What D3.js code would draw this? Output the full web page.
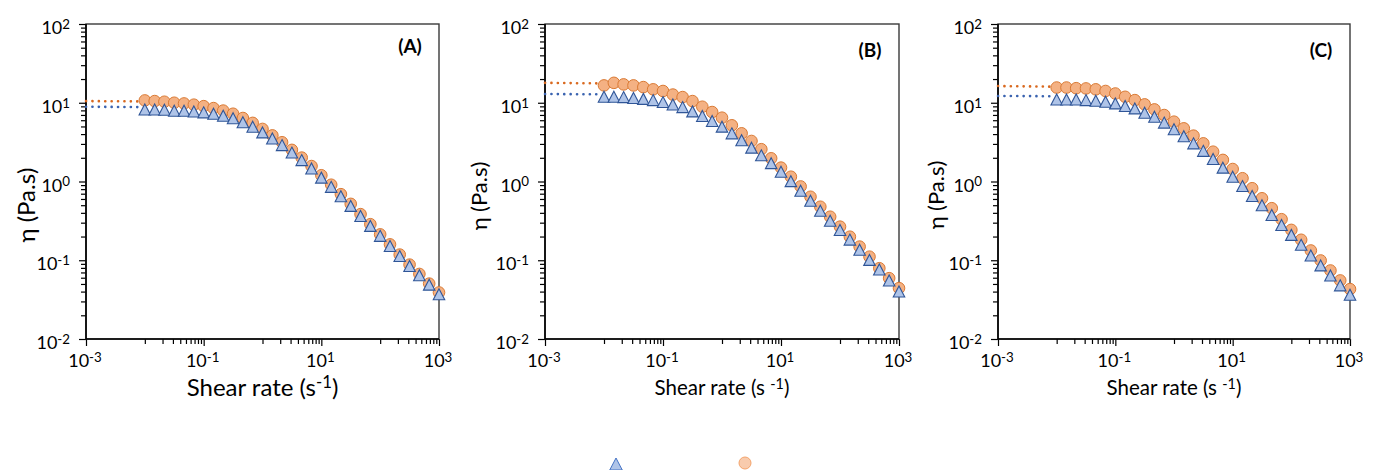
<!DOCTYPE html>
<html>
<head>
<meta charset="utf-8">
<script src="https://cdn.jsdelivr.net/npm/d3@7"></script>
<style>
  body { margin: 0; background: #fff; }
  svg { font-family: Lato, "Open Sans", sans-serif; }
</style>
</head>
<body>
<div id="vis"></div>
<script>
// shear rates (1/s), same for every sample
const shearRate = [0.01, 0.0147, 0.0215, 0.0316, 0.0464, 0.0681, 0.1, 0.147, 0.215, 0.316,
  0.464, 0.681, 1, 1.47, 2.15, 3.16, 4.64, 6.81, 10, 14.7, 21.5, 31.6, 46.4, 68.1,
  100, 147, 215, 316, 464, 681, 1000];

// viscosity (Pa.s), triangle series
const triA = [8.2, 8.2, 8.15, 7.9, 7.9, 7.75, 7.55, 7.25, 6.85, 6.35, 5.65, 4.95, 4.2, 3.52, 2.9,
  2.33, 1.87, 1.46, 1.12, 0.855, 0.65, 0.49, 0.365, 0.273, 0.204, 0.152, 0.113, 0.0847, 0.0645, 0.049, 0.037];
const triB = [11.9, 11.9, 11.8, 11.5, 11.2, 10.8, 10.2, 9.52, 8.81, 7.77, 6.78, 5.86, 4.97, 4.09, 3.34,
  2.69, 2.15, 1.71, 1.33, 1.01, 0.762, 0.569, 0.425, 0.318, 0.242, 0.183, 0.136, 0.101, 0.0762, 0.0553, 0.0401];
const triC = [11.0, 11.0, 11.0, 10.8, 10.6, 10.3, 9.81, 9.08, 8.48, 7.47, 6.65, 5.6, 4.6, 3.75, 3.05,
  2.45, 1.93, 1.5, 1.15, 0.875, 0.655, 0.5, 0.375, 0.28, 0.21, 0.157, 0.115, 0.086, 0.064, 0.048, 0.0365];

// viscosity (Pa.s), circle series
const circA = [10.7, 10.5, 10.3, 10.0, 9.8, 9.45, 9.05, 8.55, 7.95, 7.25, 6.4, 5.55, 4.65, 3.85, 3.15,
  2.52, 2.01, 1.57, 1.2, 0.91, 0.69, 0.52, 0.385, 0.287, 0.213, 0.159, 0.118, 0.088, 0.067, 0.0505, 0.039];
const circB = [16.6, 17.9, 17.1, 16.6, 15.8, 14.8, 14.1, 12.7, 11.8, 10.5, 8.9, 7.62, 6.46, 5.17, 4.09,
  3.27, 2.57, 1.97, 1.5, 1.15, 0.865, 0.64, 0.478, 0.357, 0.267, 0.199, 0.149, 0.111, 0.0792, 0.0592, 0.0442];
const circC = [15.6, 15.6, 15.3, 15.2, 14.8, 14.1, 13.1, 11.9, 10.8, 9.53, 8.23, 6.98, 5.75, 4.73, 3.82,
  3.05, 2.39, 1.88, 1.44, 1.1, 0.821, 0.612, 0.458, 0.332, 0.243, 0.182, 0.133, 0.0993, 0.0741, 0.0554, 0.043];

// model fit (dotted), only the part left of the data shows
const fitRate = [0.001, 0.0085];
const fitTriA = [8.9, 8.8];
const fitCircA = [10.5, 10.4];
const fitTriB = [12.9, 12.8];
const fitCircB = [17.9, 17.6];
const fitTriC = [12.2, 12.1];
const fitCircC = [16.3, 16.0];

// tick labels (exponents of 10)
const xExponents = [-3, -1, 1, 3];
const yExponents = [-2, -1, 0, 1, 2];

const panelLabels = ["(A)", "(B)", "(C)"];

const WIDTH = 1373, HEIGHT = 470;
const TOP = 24, BOTTOM = 339;
const TICK_FONT = 18;

// per panel layout (A is drawn with larger titles)
const PANELS = [
  {left: 86, right: 439, tri: triA, circ: circA, fitTri: fitTriA, fitCirc: fitCircA,
   yTitleX: 25, yTitleY: 205, yTitleSize: 24, xTitleY: 387, xTitleSize: 24, labY: 45},
  {left: 545, right: 899, tri: triB, circ: circB, fitTri: fitTriB, fitCirc: fitCircB,
   yTitleX: 478, yTitleY: 196, yTitleSize: 22, xTitleY: 388, xTitleSize: 20.5, labY: 49},
  {left: 998, right: 1350, tri: triC, circ: circC, fitTri: fitTriC, fitCirc: fitCircC,
   yTitleX: 935, yTitleY: 195, yTitleSize: 22, xTitleY: 388, xTitleSize: 20.5, labY: 49}
];

const TRI_FILL = "#AFC4E8", TRI_STROKE = "#2F5597";
const CIRC_FILL = "#F4B183", CIRC_STROKE = "#DA7A34";

const svg = d3.select("#vis").append("svg")
  .attr("width", WIDTH).attr("height", HEIGHT);

// triangle marker centred on the point
function triPath(w, h) {
  return "M0," + (-h / 2) + "L" + (w / 2) + "," + (h / 2) + "L" + (-w / 2) + "," + (h / 2) + "Z";
}

// "10" with superscript exponent
function powerLabel(sel, e, size) {
  sel.append("tspan").text("10");
  sel.append("tspan")
    .attr("dy", -size * 0.28)
    .attr("font-size", size * 0.74)
    .text(e);
}

PANELS.forEach((p, k) => {
  const X = d3.scaleLog().domain([1e-3, 1e3]).range([p.left, p.right]);
  const Y = d3.scaleLog().domain([1e-2, 1e2]).range([BOTTOM, TOP]);
  const g = svg.append("g");

  // y minor ticks: 2..9 per decade
  const yMinor = [];
  for (let d = -2; d < 2; d++) for (let m = 2; m <= 9; m++) yMinor.push(m * Math.pow(10, d));
  // x axis is base-100 in the original: minor ticks 10..90 per two decades
  const xMinor = [];
  for (let d = -3; d < 3; d += 2) for (let m = 10; m <= 90; m += 10) xMinor.push(m * Math.pow(10, d));
  const yMajor = yExponents.map(e => Math.pow(10, e));
  const xMajor = xExponents.map(e => Math.pow(10, e));

  g.append("g").attr("transform", "translate(" + p.left + ",0)")
    .call(d3.axisLeft(Y).tickValues(yMinor).tickSize(5).tickFormat(""))
    .call(a => a.select(".domain").remove());
  g.append("g").attr("transform", "translate(" + p.left + ",0)")
    .call(d3.axisLeft(Y).tickValues(yMajor).tickSize(7).tickFormat(""))
    .call(a => a.select(".domain").remove());
  g.append("g").attr("transform", "translate(0," + BOTTOM + ")")
    .call(d3.axisBottom(X).tickValues(xMinor).tickSize(5).tickFormat(""))
    .call(a => a.select(".domain").remove());
  g.append("g").attr("transform", "translate(0," + BOTTOM + ")")
    .call(d3.axisBottom(X).tickValues(xMajor).tickSize(7).tickFormat(""))
    .call(a => a.select(".domain").remove());
  g.selectAll(".tick line").attr("stroke", "#000").attr("stroke-width", 1.2);

  // plot frame
  g.append("rect")
    .attr("x", p.left).attr("y", TOP)
    .attr("width", p.right - p.left).attr("height", BOTTOM - TOP)
    .attr("fill", "none").attr("stroke", "#3a3a3a").attr("stroke-width", 1.4);
  g.append("path")
    .attr("d", "M" + p.left + "," + TOP + "V" + BOTTOM + "H" + p.right)
    .attr("fill", "none").attr("stroke", "#000").attr("stroke-width", 1.6);

  // tick labels
  yExponents.forEach(e => {
    g.append("text")
      .attr("x", p.left - 16).attr("y", Y(Math.pow(10, e)) + 10)
      .attr("text-anchor", "end").attr("font-size", TICK_FONT).attr("fill", "#000")
      .call(s => powerLabel(s, e, TICK_FONT));
  });
  xExponents.forEach(e => {
    g.append("text")
      .attr("x", X(Math.pow(10, e)) - 1).attr("y", BOTTOM + 28)
      .attr("text-anchor", "middle").attr("font-size", TICK_FONT).attr("fill", "#000")
      .call(s => powerLabel(s, e, TICK_FONT));
  });

  // axis titles
  g.append("text")
    .attr("transform", "translate(" + p.yTitleX + "," + p.yTitleY + ") rotate(-90)")
    .attr("text-anchor", "middle").attr("dominant-baseline", "central")
    .attr("font-size", p.yTitleSize).text("η (Pa.s)");
  const xt = g.append("text")
    .attr("x", (p.left + p.right) / 2).attr("y", p.xTitleY + p.xTitleSize * 0.36)
    .attr("text-anchor", "middle")
    .attr("font-size", p.xTitleSize);
  xt.append("tspan").text(k === 0 ? "Shear rate (s" : "Shear rate (s ");
  xt.append("tspan").attr("dy", -p.xTitleSize * 0.32).attr("font-size", p.xTitleSize * 0.7).text("-1");
  xt.append("tspan").attr("dy", p.xTitleSize * 0.32).text(")");

  // panel letter
  g.append("text")
    .attr("x", p.right - 29).attr("y", p.labY)
    .attr("text-anchor", "middle").attr("dominant-baseline", "central")
    .attr("font-size", 19).attr("font-weight", "bold").text(panelLabels[k]);

  // dotted fit lines
  const line = d3.line().x(d => X(d[0])).y(d => Y(d[1]));
  [[p.fitCirc, "#D9691F"], [p.fitTri, "#3A63B0"]].forEach(([vals, col]) => {
    g.append("path")
      .datum(fitRate.map((r, i) => [r, vals[i]]))
      .attr("d", line)
      .attr("fill", "none").attr("stroke", col).attr("stroke-width", 2.6)
      .attr("stroke-linecap", "round").attr("stroke-dasharray", "0.1 6.3");
  });

  // circles behind, triangles on top
  g.selectAll(".circ")
    .data(shearRate.map((r, i) => [r, p.circ[i]]))
    .enter().append("circle")
      .attr("class", "circ")
      .attr("cx", d => X(d[0])).attr("cy", d => Y(d[1]))
      .attr("r", 5.8)
      .attr("fill", CIRC_FILL).attr("stroke", CIRC_STROKE).attr("stroke-width", 1);
  g.selectAll(".tri")
    .data(shearRate.map((r, i) => [r, p.tri[i]]))
    .enter().append("path")
      .attr("class", "tri")
      .attr("d", triPath(11.5, 11))
      .attr("transform", d => "translate(" + X(d[0]) + "," + Y(d[1]) + ")")
      .attr("fill", TRI_FILL).attr("stroke", TRI_STROKE).attr("stroke-width", 1.1);
});

// legend markers (labels fall outside the picture)
svg.append("path")
  .attr("d", triPath(12.5, 12))
  .attr("transform", "translate(616,464)")
  .attr("fill", TRI_FILL).attr("stroke", "#4472C4").attr("stroke-width", 1);
svg.append("circle")
  .attr("cx", 745).attr("cy", 463).attr("r", 6)
  .attr("fill", "#F8CBAD").attr("stroke", "#F4A46C").attr("stroke-width", 1);
</script>
</body>
</html>
